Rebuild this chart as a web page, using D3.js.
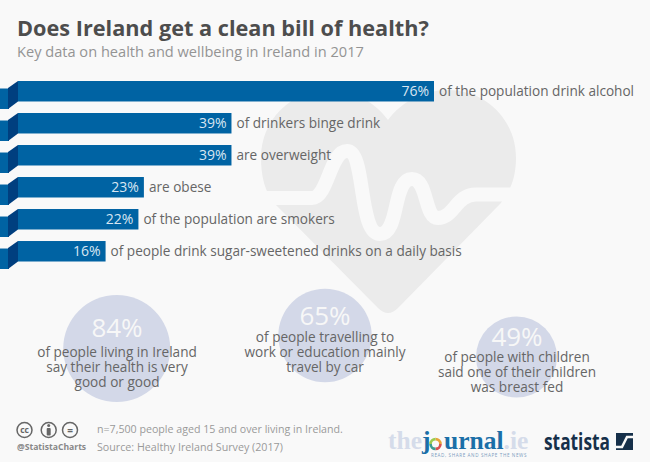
<!DOCTYPE html>
<html><head><meta charset="utf-8">
<script src="https://cdn.jsdelivr.net/npm/d3@7/dist/d3.min.js"></script>
<style>html,body{margin:0;padding:0;background:#f9f9f9}svg{display:block;font-family:"Open Sans",sans-serif}</style>
</head><body><svg id="c" width="650" height="462"></svg>
<script>
const barValues=[76,39,39,23,22,16];
const barLabels=["of the population drink alcohol","of drinkers binge drink","are overweight","are obese","of the population are smokers","of people drink sugar-sweetened drinks on a daily basis"];
const bubbleValues=[84,65,49];
const bubbleLines=[["of people living in Ireland","say their health is very","good or good"],["of people travelling to","work or education mainly","travel by car"],["of people with children","said one of their children","was breast fed"]];
const svg=d3.select("#c");
const x=d3.scaleLinear().domain([0,76]).range([18,434]);
const y=d3.scaleBand().domain(d3.range(barValues.length)).range([81,261.5]).paddingInner(0.36).paddingOuter(0).align(0);
// heart
svg.append("path").attr("fill","#ebebeb").attr("d","M378,308 L275,204 C265,193 261,176 261,158 C261,120 291,90 329,90 C353,90 375,102 388,120 C401,102 424,90 448,90 C486,90 516,120 516,158 C516,176 511,191 500,204 L398,308 Q388,318 378,308 Z");
svg.append("path").attr("fill","none").attr("stroke","#f9f9f9").attr("stroke-width",14).attr("stroke-linejoin","round").attr("d","M255,198 L312,198 C328,198 330,151 347,151 C366,151 358,234 380,234 C400,234 392,179 412,179 C428,179 424,218 438,218 C454,218 456,194.5 476,194.5 L525,194.5");
const cy=i=>y(i);
const h=y.bandwidth();
const g=svg.selectAll("g.bar").data(barValues).join("g").attr("class","bar");
g.append("rect").attr("x",0).attr("width",9).attr("y",(d,i)=>cy(i)+7.5).attr("height",h).attr("fill","#0063a3");
g.append("path").attr("fill","#003f7f").attr("d",(d,i)=>`M18,${cy(i)}L8,${cy(i)+7}V${cy(i)+h+7.5}L18,${cy(i)+h}Z`);
g.append("rect").attr("x",x(0)).attr("y",(d,i)=>cy(i)).attr("height",h).attr("width",d=>x(d)-x(0)).attr("fill","#0063a3");
g.append("text").attr("x",d=>x(d)-5).attr("y",(d,i)=>cy(i)+h/2+5).attr("text-anchor","end").attr("fill","#d8e6f2").attr("font-size",14).text(d=>d+"%");
g.append("text").attr("x",d=>x(d)+5).attr("y",(d,i)=>cy(i)+h/2+5).attr("fill","#666").attr("font-size",13.6).text((d,i)=>barLabels[i]);
// titles
svg.append("text").attr("x",17).attr("y",36).attr("font-size",21.7).attr("font-weight",700).attr("fill","#4d4d4d").text("Does Ireland get a clean bill of health?");
svg.append("text").attr("x",17).attr("y",57).attr("font-size",14.6).attr("fill","#949494").text("Key data on health and wellbeing in Ireland in 2017");
// bubbles
const bubbleCx=[116.7,325,516.5],bubbleCy=[348.5,335.5,357],bubbleR=[53.5,46.7,40.5],bubbleTextX=[117,325,517],bubbleValY=[337,325,346],bubbleLineY=[357,342,362];
const b=svg.selectAll("g.bub").data(bubbleValues).join("g").attr("class","bub");
b.append("circle").attr("cx",(d,i)=>bubbleCx[i]).attr("cy",(d,i)=>bubbleCy[i]).attr("r",(d,i)=>bubbleR[i]).attr("fill","#d3d8e8");
b.append("text").attr("x",(d,i)=>bubbleTextX[i]).attr("y",(d,i)=>bubbleValY[i]).attr("text-anchor","middle").attr("fill","#f7f7f7").attr("font-size",26).text(d=>d+"%");
b.each(function(d,i){d3.select(this).selectAll("text.l").data(bubbleLines[i]).join("text").attr("class","l").attr("x",bubbleTextX[i]).attr("y",(t,j)=>bubbleLineY[i]+j*15).attr("text-anchor","middle").attr("fill","#666").attr("font-size",13.6).text(t=>t)});
// footer
const f=svg.append("g");
[24.5,48.7,70].forEach(c=>f.append("circle").attr("cx",c).attr("cy",430).attr("r",7.5).attr("fill","none").attr("stroke","#666").attr("stroke-width",1.5));
f.append("text").attr("x",24.5).attr("y",433).attr("text-anchor","middle").attr("font-size",8.5).attr("font-weight",700).attr("fill","#666").text("cc");
f.append("circle").attr("cx",48.7).attr("cy",425.5).attr("r",1.5).attr("fill","#666");
f.append("rect").attr("x",46.7).attr("y",428).attr("width",4).attr("height",7.5).attr("rx",1).attr("fill","#666");
f.append("text").attr("x",70).attr("y",433.5).attr("text-anchor","middle").attr("font-size",10).attr("font-weight",700).attr("fill","#666").text("=");
f.append("text").attr("x",17).attr("y",449.5).attr("font-size",8.6).attr("font-weight",700).attr("fill","#888").text("@StatistaCharts");
f.append("text").attr("x",97).attr("y",433).attr("font-size",10.65).attr("fill","#999").text("n=7,500 people aged 15 and over living in Ireland.");
f.append("text").attr("x",97).attr("y",451).attr("font-size",10.7).attr("fill","#999").text("Source: Healthy Ireland Survey (2017)");
// logos
const t1=f.append("text").attr("x",388).attr("y",449).attr("font-family","Liberation Serif, serif").attr("font-size",25.5).attr("font-weight",700);
t1.append("tspan").attr("fill","#d5dcea").text("the");
t1.append("tspan").attr("fill","#1b6fa8").text("j");
t1.append("tspan").attr("fill","#1b6fa8").attr("dx",13.5).text("urnal");
t1.append("tspan").attr("fill","#d5dcea").text(".ie");
const ringColors=["#e8a33a","#d94f4f","#3f9c8f","#9ccb4f"];
const arc=d3.arc().innerRadius(3.6).outerRadius(6.3);
ringColors.forEach((c,i)=>f.append("path").attr("transform","translate(435.5,444)").attr("fill",c).attr("d",arc({startAngle:i*Math.PI/2,endAngle:(i+1)*Math.PI/2})));
f.append("text").attr("x",431).attr("y",457).attr("font-size",4.6).attr("fill","#7b9cc0").attr("letter-spacing",0.6).text("READ, SHARE AND SHAPE THE NEWS");
f.append("text").attr("x",544).attr("y",450).attr("font-size",23).attr("font-weight",700).attr("fill","#16304a").attr("textLength",66).attr("lengthAdjust","spacingAndGlyphs").text("statista");
f.append("rect").attr("x",616).attr("y",433).attr("width",17).attr("height",17).attr("fill","#16304a");
f.append("path").attr("fill","none").attr("stroke","#f9f9f9").attr("stroke-width",2.5).attr("d","M614,447 H622 L627,437 H636");
</script></body></html>
